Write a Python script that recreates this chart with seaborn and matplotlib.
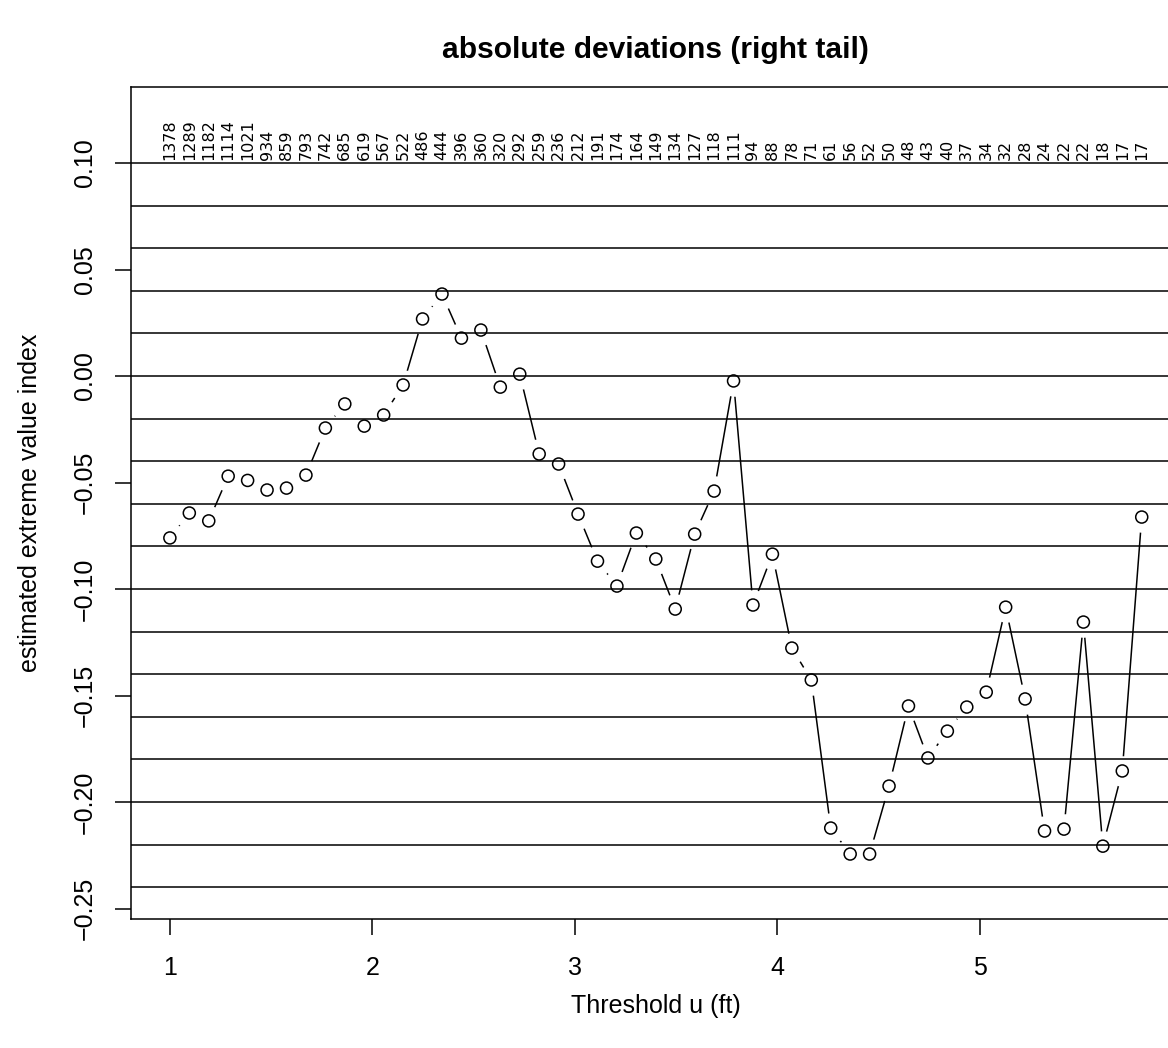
import numpy as np
import pandas as pd
import matplotlib
matplotlib.use("Agg")
import matplotlib.pyplot as plt
import seaborn as sns

plt.rcParams['font.family'] = ['Liberation Sans', 'DejaVu Sans']
plt.rcParams['axes.unicode_minus'] = True

# ---- data ----
threshold = [round(1 + 0.096 * i, 3) for i in range(51)]
xi_hat = [-0.0760, -0.0643, -0.0680, -0.0470, -0.0490, -0.0535, -0.0526, -0.0465,
          -0.0244, -0.0131, -0.0235, -0.0183, -0.0042, 0.0268, 0.0385, 0.0178,
          0.0216, -0.0052, 0.0009, -0.0366, -0.0413, -0.0648, -0.0869, -0.0986,
          -0.0737, -0.0859, -0.1094, -0.0742, -0.0540, -0.0023, -0.1075, -0.0836,
          -0.1277, -0.1427, -0.2122, -0.2244, -0.2244, -0.1925, -0.1549, -0.1793,
          -0.1667, -0.1554, -0.1484, -0.1085, -0.1516, -0.2136, -0.2127, -0.1155,
          -0.2207, -0.1854, -0.0662]
n_exceed = [1378, 1289, 1182, 1114, 1021, 934, 859, 793, 742, 685, 619, 567, 522,
            486, 444, 396, 360, 320, 292, 259, 236, 212, 191, 174, 164, 149, 134,
            127, 118, 111, 94, 88, 78, 71, 61, 56, 52, 50, 48, 43, 40, 37, 34, 32,
            28, 24, 22, 22, 18, 17, 17]
grid_levels = [round(-0.24 + 0.02 * i, 2) for i in range(18)]
x_ticks = [1, 2, 3, 4, 5]
y_ticks = [-0.25, -0.20, -0.15, -0.10, -0.05, 0.00, 0.05, 0.10]
label_y = 0.1014

df = pd.DataFrame({"u": threshold, "xi": xi_hat})

W, H = 1168, 1048
fig = plt.figure(figsize=(W / 100, H / 100), dpi=100)
ax = fig.add_axes([131 / W, 1 - 919 / H, (1180.6 - 131) / W, (919 - 87) / H])

# connecting line (type = "b")
sns.lineplot(data=df, x="u", y="xi", ax=ax, color="black", lw=1.1, zorder=1,
             sort=False, estimator=None)
# white masks to create gaps around points
ax.plot(df["u"], df["xi"], ls="none", marker="o", ms=22, mfc="white", mec="none", zorder=2)
# horizontal reference lines
for g in grid_levels:
    ax.axhline(g, color="black", lw=1.1, zorder=3)
# open circles
sns.scatterplot(data=df, x="u", y="xi", ax=ax, marker="o", s=75,
                facecolor="none", edgecolor="black", linewidth=1.1, zorder=4)

# exceedance counts at top
for xv, n in zip(threshold, n_exceed):
    ax.text(xv, label_y, str(n), rotation=90, ha="center", va="bottom",
            fontsize=11.5, family=["DejaVu Sans"], zorder=5)

ax.set_xlim(0.808, 5.992)
ax.set_ylim(-0.2549, 0.1357)
ax.set_xticks(x_ticks)
ax.set_xticklabels([str(t) for t in x_ticks], fontsize=18)
ax.set_yticks(y_ticks)
ax.set_yticklabels([f"{t:.2f}".replace("-", "\u2212") for t in y_ticks],
                   fontsize=18, rotation=90, va="center")
ax.tick_params(axis="x", direction="out", length=11.5, width=1.1, color="black", pad=15)
ax.tick_params(axis="y", direction="out", length=11.5, width=1.1, color="black", pad=13)

for s in ax.spines.values():
    s.set_linewidth(1.1)
    s.set_color("black")

ax.set_xlabel("Threshold u (ft)", fontsize=18, labelpad=10)
ax.set_ylabel("estimated extreme value index", fontsize=18, labelpad=22)
ax.set_title("absolute deviations (right tail)", fontsize=21.6, fontweight="bold", pad=21)
ax.set_facecolor("white")
fig.patch.set_facecolor("white")

fig.savefig("out.png", dpi=100)
